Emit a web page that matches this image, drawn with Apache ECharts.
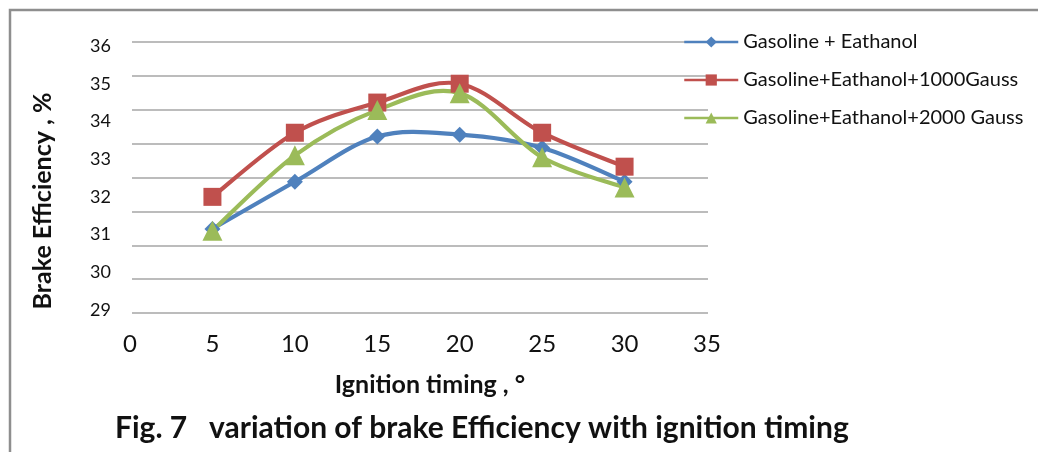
<!DOCTYPE html>
<html>
<head>
<meta charset="utf-8">
<title>Brake efficiency vs ignition timing</title>
<script src="https://cdn.jsdelivr.net/npm/echarts@6/dist/echarts.min.js"></script>
<style>
  html, body { margin: 0; padding: 0; background: #fff; }
  #chart { width: 1038px; height: 452px; }
</style>
</head>
<body>
<div id="chart"></div>
<script>
// ignition timing (deg) and brake efficiency (%)
const timing = [5, 10, 15, 20, 25, 30];
const gasEthanol = [31.15, 32.4, 33.6, 33.65, 33.3, 32.4];
const gasEthanol1000 = [32.0, 33.7, 34.5, 35.0, 33.7, 32.8];
const gasEthanol2000 = [31.1, 33.1, 34.3, 34.75, 33.05, 32.25];

const xMin = 0, xMax = 35, xStep = 5;
const yMin = 29, yMax = 36, yStep = 1;
// the original has 9 gridlines behind 8 labels, so the lines get their own grid
const gridBands = 8;

const seriesNames = [
  'Gasoline + Eathanol',
  'Gasoline+Eathanol+1000Gauss',
  'Gasoline+Eathanol+2000 Gauss'
];
const colors = ['#4f81bd', '#c0504d', '#9bbb59'];
const symbols = ['diamond', 'rect', 'triangle'];
const symbolSizes = [16, 18, 20];
const values = [gasEthanol, gasEthanol1000, gasEthanol2000];

const font = 'Lato, "Open Sans", sans-serif';

const pairs = (ys) => timing.map((t, i) => [t, ys[i]]);

// Excel style smoothing (catmull-rom), echarts' own smooth clamps the peaks flat
function curveSeries(idx) {
  const ys = values[idx];
  return {
    name: seriesNames[idx],
    type: 'custom',
    xAxisIndex: 1, yAxisIndex: 1,
    z: 1,
    silent: true,
    data: pairs(ys).slice(0, -1),
    renderItem: (params, api) => {
      const i = params.dataIndex;
      const n = timing.length;
      const p = (j) => api.coord([timing[Math.max(0, Math.min(n - 1, j))], ys[Math.max(0, Math.min(n - 1, j))]]);
      const p0 = p(i - 1), p1 = p(i), p2 = p(i + 1), p3 = p(i + 2);
      return {
        type: 'bezierCurve',
        shape: {
          x1: p1[0], y1: p1[1],
          x2: p2[0], y2: p2[1],
          cpx1: p1[0] + (p2[0] - p0[0]) / 6, cpy1: p1[1] + (p2[1] - p0[1]) / 6,
          cpx2: p2[0] - (p3[0] - p1[0]) / 6, cpy2: p2[1] - (p3[1] - p1[1]) / 6
        },
        style: {stroke: colors[idx], lineWidth: 4.2, fill: null, lineCap: 'round'}
      };
    }
  };
}

function markerSeries(idx) {
  return {
    name: seriesNames[idx],
    type: 'line',
    xAxisIndex: 1, yAxisIndex: 1,
    z: 3,
    data: pairs(values[idx]),
    symbol: symbols[idx],
    symbolSize: symbolSizes[idx],
    lineStyle: {width: 3, color: colors[idx], opacity: 0},
    itemStyle: {color: colors[idx]}
  };
}

const chart = echarts.init(document.getElementById('chart'), null, {renderer: 'canvas'});

chart.setOption({
  animation: false,
  textStyle: {fontFamily: font},
  grid: [
    // gridlines only
    {left: 132, right: 330, top: 42, bottom: 139},
    // data
    {left: 130, right: 331, top: 46, bottom: 142}
  ],
  xAxis: [
    {
      gridIndex: 0, type: 'value', min: 0, max: 1,
      axisLine: {show: false}, axisTick: {show: false},
      axisLabel: {show: false}, splitLine: {show: false}
    },
    {
      gridIndex: 1, type: 'value', min: xMin, max: xMax, interval: xStep,
      axisLine: {show: false}, axisTick: {show: false},
      splitLine: {show: false},
      axisLabel: {fontSize: 24, color: '#111', margin: 22, fontFamily: font}
    }
  ],
  yAxis: [
    {
      gridIndex: 0, type: 'value', min: 0, max: gridBands, interval: 1,
      axisLine: {show: false}, axisTick: {show: false},
      axisLabel: {show: false},
      splitLine: {show: true, lineStyle: {color: '#a6a6a6', width: 1.5}}
    },
    {
      gridIndex: 1, type: 'value', min: yMin, max: yMax, interval: yStep,
      axisLine: {show: false}, axisTick: {show: false},
      splitLine: {show: false},
      axisLabel: {fontSize: 18, color: '#111', margin: 19, fontFamily: font}
    }
  ],
  legend: {
    orient: 'vertical',
    left: 678,
    top: 27,
    itemWidth: 54,
    itemHeight: 14,
    itemGap: 18,
    textStyle: {fontSize: 20, color: '#111', lineHeight: 20, fontFamily: font},
    data: seriesNames.map((name) => ({name: name, lineStyle: {opacity: 1, width: 2.5}}))
  },
  series: [0, 1, 2].map(markerSeries).concat([0, 1, 2].map(curveSeries)),
  graphic: [
    // frame on top and left edges
    {
      type: 'polyline',
      shape: {points: [[10, 452], [10, 10], [1038, 10]]},
      style: {stroke: '#8e8e8e', lineWidth: 2.5, fill: null},
      silent: true
    },
    {
      type: 'text', x: 43, y: 201, rotation: Math.PI / 2,
      style: {
        text: 'Brake Efficiency , %', fontSize: 25, fontWeight: 'bold',
        fontFamily: font, fill: '#111', align: 'center', verticalAlign: 'middle'
      }
    },
    {
      type: 'text', x: 430, y: 385,
      style: {
        text: 'Ignition timing , °', fontSize: 25, fontWeight: 'bold',
        fontFamily: font, fill: '#111', align: 'center', verticalAlign: 'middle'
      }
    },
    {
      type: 'text', x: 115, y: 428,
      style: {
        text: 'Fig. 7   variation of brake Efficiency with ignition timing',
        fontSize: 30, fontWeight: 'bold',
        fontFamily: font, fill: '#111', align: 'left', verticalAlign: 'middle'
      }
    }
  ]
});

window.addEventListener('resize', () => chart.resize());
</script>
</body>
</html>
